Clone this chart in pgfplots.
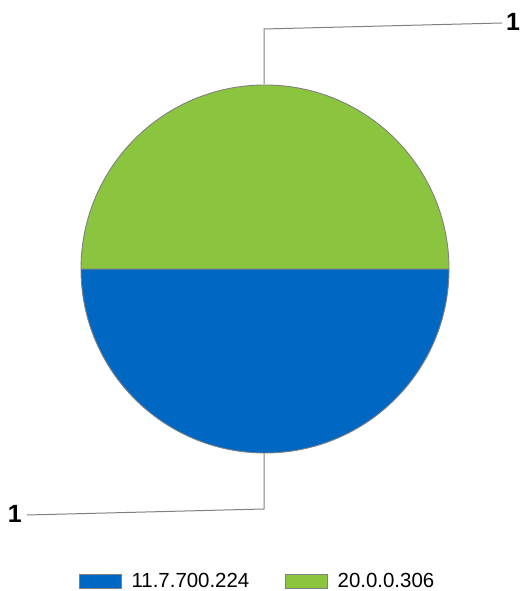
\documentclass[border=0pt]{standalone}
\usepackage{fontspec}
\setmainfont{Liberation Sans}
\usepackage{pgfplots}
\usepackage{pgfplotstable}
\pgfplotsset{compat=1.18}
\definecolor{sliceblue}{HTML}{0068C2}
\definecolor{slicegreen}{HTML}{8BC53F}
\definecolor{edgegray}{HTML}{808080}
\pgfplotstableread{
label value
11.7.700.224 1
20.0.0.306 1
}\piedata
\begin{document}
\begin{tikzpicture}
\begin{axis}[
  scale only axis, width=521bp, height=591bp,
  xmin=0, xmax=521, ymin=0, ymax=591,
  hide axis, clip=false,
  legend style={at={(axis cs:79,10)}, anchor=west, draw=none, fill=none,
    inner sep=0pt, font=\fontsize{20.5}{23}\selectfont,
    /tikz/every even column/.append style={column sep=34bp}},
  legend columns=2,
  legend image code/.code={\draw[#1] (0bp,-7bp) rectangle (42bp,7bp); \path (50bp,0bp);},
]
\path (axis cs:0,0) -- (axis cs:521,591);
\pgfplotstablegetelem{0}{value}\of\piedata \let\va\pgfplotsretval
\pgfplotstablegetelem{1}{value}\of\piedata \let\vb\pgfplotsretval
\pgfmathsetmacro{\total}{\va+\vb}
\pgfmathsetmacro{\angA}{360*\va/\total}
\pgfmathsetmacro{\startA}{180}
\pgfmathsetmacro{\endA}{\startA+\angA}
\pgfmathsetmacro{\endB}{\endA+360*\vb/\total}
\pgfmathtruncatemacro{\la}{\va}
\pgfmathtruncatemacro{\lb}{\vb}
\filldraw[fill=sliceblue, draw=edgegray, line width=0.9bp]
  (axis cs:265,322) -- ++(\startA:184bp) arc[start angle=\startA, end angle=\endA, radius=184bp] -- cycle;
\filldraw[fill=slicegreen, draw=edgegray, line width=0.9bp]
  (axis cs:265,322) -- ++(\endA:184bp) arc[start angle=\endA, end angle=\endB, radius=184bp] -- cycle;
\addlegendimage{fill=sliceblue, draw=edgegray}
\addlegendentry{11.7.700.224}
\addlegendimage{fill=slicegreen, draw=edgegray}
\addlegendentry{20.0.0.306}
% leader lines and labels
\draw[edgegray, line width=1bp] (axis cs:264,507) -- (axis cs:264,562) -- (axis cs:502,568);
\node[anchor=west, inner sep=0pt, font=\bfseries\fontsize{25}{27}\selectfont] at (axis cs:506,569) {\la};
\draw[edgegray, line width=1bp] (axis cs:264,138) -- (axis cs:264,82) -- (axis cs:27,76);
\node[anchor=east, inner sep=0pt, font=\bfseries\fontsize{25}{27}\selectfont] at (axis cs:22,77) {\lb};
\end{axis}
\end{tikzpicture}
\end{document}
